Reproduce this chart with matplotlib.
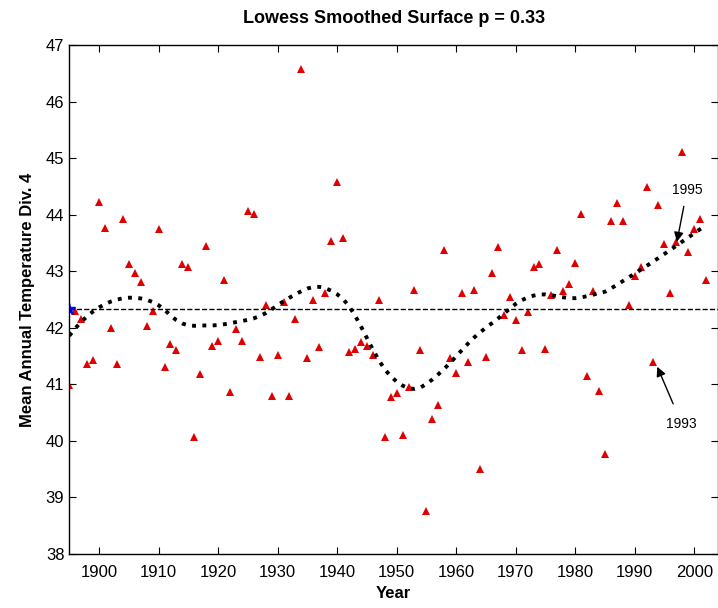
import matplotlib
matplotlib.use('Agg')
import matplotlib.pyplot as plt
import numpy as np

plt.rcParams['font.family'] = ['Liberation Sans', 'DejaVu Sans']

years = np.arange(1895, 2003)
temps = [40.98, 42.30, 42.16, 41.36, 41.43, 44.22, 43.77, 42.00, 41.36, 43.93,
         43.13, 42.97, 42.81, 42.03, 42.29, 43.74, 41.30, 41.71, 41.60, 43.13,
         43.07, 40.07, 41.18, 43.44, 41.68, 41.76, 42.84, 40.87, 41.98, 41.76,
         44.07, 44.01, 41.49, 42.40, 40.80, 41.52, 42.45, 40.80, 42.16, 46.58,
         41.46, 42.49, 41.66, 42.62, 43.53, 44.57, 43.58, 41.57, 41.63, 41.75,
         41.68, 41.52, 42.49, 40.07, 40.77, 40.85, 40.10, 40.95, 42.67, 41.60,
         38.76, 40.39, 40.63, 43.37, 41.46, 41.20, 42.62, 41.39, 42.67, 39.51,
         41.48, 42.97, 43.43, 42.22, 42.54, 42.14, 41.60, 42.27, 43.07, 43.13,
         41.62, 42.57, 43.37, 42.65, 42.78, 43.15, 44.01, 41.15, 42.65, 40.88,
         39.76, 43.88, 44.20, 43.88, 42.40, 42.92, 43.07, 44.49, 41.39, 44.17,
         43.48, 42.62, 43.51, 45.10, 43.34, 43.74, 43.93, 42.84]
temps = np.array(temps)
span = 0.33


def loess(x, y, frac, deg=2):
    # local polynomial fit with tricube weights
    n = len(x)
    k = int(np.ceil(frac * n))
    out = np.zeros(n)
    for i in range(n):
        d = np.abs(x - x[i])
        h = np.sort(d)[k - 1]
        w = np.clip(1 - (d / (h * 1.0001)) ** 3, 0, None) ** 3
        A = np.vstack([(x - x[i]) ** p for p in range(deg + 1)]).T
        W = np.sqrt(w)
        coef = np.linalg.lstsq(A * W[:, None], y * W, rcond=None)[0]
        out[i] = coef[0]
    return out


smooth = loess(years.astype(float), temps, span)
mean_t = temps.mean()

fig = plt.figure(figsize=(7.18, 6.08), dpi=100)
ax = fig.add_axes([0.0965, 0.089, 0.9035, 0.837])

ax.plot(years, temps, '^', color='#e00000', markersize=5.5, markeredgewidth=0)
ax.axhline(mean_t, color='k', linestyle='--', linewidth=1)
ax.plot(years, smooth, ':', color='k', linewidth=2.8)
ax.plot(years[0], mean_t, '*', color='blue', markersize=9)

ax.annotate('1995', xy=(1997.1, 43.52), xytext=(1998.8, 44.44),
            ha='center', va='center', fontsize=10,
            arrowprops=dict(arrowstyle='-|>', color='k', lw=1, shrinkA=5, shrinkB=0,
                            mutation_scale=14))
ax.annotate('1993', xy=(1993.8, 41.31), xytext=(1997.9, 40.30),
            ha='center', va='center', fontsize=10,
            arrowprops=dict(arrowstyle='-|>', color='k', lw=1, shrinkA=8, shrinkB=0,
                            mutation_scale=14))

ax.set_xlim(1895, 2004)
ax.set_ylim(38, 47)
ax.set_xticks(np.arange(1900, 2001, 10))
ax.set_yticks(np.arange(38, 48, 1))
ax.tick_params(direction='in', top=True, right=True, labelsize=12, length=5)
ax.tick_params(axis='x', pad=8)
for s in ax.spines.values():
    s.set_linewidth(1)

ax.set_title('Lowess Smoothed Surface p = 0.33', fontsize=13, fontweight='bold', pad=16)
ax.set_xlabel('Year', fontsize=12, fontweight='bold', labelpad=4)
ax.set_ylabel('Mean Annual Temperature Div. 4', fontsize=12, fontweight='bold', labelpad=8)

fig.savefig('out.png', dpi=100)
